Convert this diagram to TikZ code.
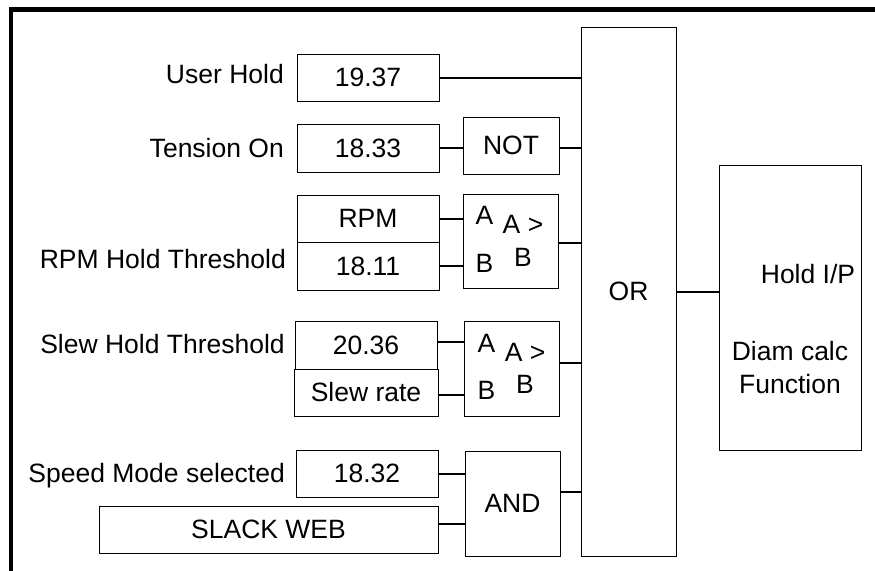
\documentclass[tikz,border=0pt]{standalone}
\usepackage{fontspec}
\setmainfont{Liberation Sans}
\begin{document}
\begin{tikzpicture}[x=1pt,y=-1pt,
  font=\fontsize{26.5}{32.5}\selectfont,
  blk/.style={draw=black, line width=1pt, inner sep=0pt, align=center},
  lbl/.style={inner sep=0pt, anchor=base east},
  wire/.style={line width=2pt},
  pin/.style={inner sep=0pt}]
\useasboundingbox (0,0) rectangle (875,570);
% outer frame (only top and left edges fall inside the page)
\draw[line width=4.5pt] (10.8,575) -- (10.8,9.3) -- (880,9.3);

% parameter / input boxes
\node[blk, minimum width=142, minimum height=47] (v1937) at (368,77.5) {19.37};
\node[blk, minimum width=142, minimum height=48] (v1833) at (368,148) {18.33};
\node[blk, minimum width=142, minimum height=47] (rpm)   at (368,218.5) {RPM};
\node[blk, minimum width=142, minimum height=48] (v1811) at (368,266) {18.11};
\node[blk, minimum width=142, minimum height=48] (v2036) at (366,345) {20.36};
\node[blk, minimum width=144, minimum height=47] (slew)  at (366,392.5) {Slew rate};
\node[blk, minimum width=142, minimum height=47] (v1832) at (367,473.5) {18.32};
\node[blk, minimum width=339, minimum height=47] (slack) at (268.5,529.5) {SLACK WEB};

% input labels
\node[lbl] (lUser)  at (284,83)  {User Hold};
\node[lbl] (lTens)  at (284,157) {Tension On};
\node[lbl] (lRpm)   at (286,268) {RPM Hold Threshold};
\node[lbl] (lSlew)  at (285,353) {Slew Hold Threshold};
\node[lbl] (lSpeed) at (285,482) {Speed Mode selected};

% logic blocks
\node[blk, minimum width=96, minimum height=57]  (not)  at (511,145.5) {NOT};
\node[blk, minimum width=95, minimum height=94]  (cmp1) at (510.5,241) {};
\node[blk, minimum width=95, minimum height=95]  (cmp2) at (511.5,368.5) {};
\node[blk, minimum width=95, minimum height=105] (and)  at (512.5,503.5) {AND};
\node[blk, minimum width=95, minimum height=529] (or)   at (628.5,291.5) {OR};
\node[blk, minimum width=142, minimum height=285] (hold) at (790,307.5) {};

% comparator pin labels and function text
\node[pin] (c1a) at ([shift={(22,22)}]cmp1.north west) {A};
\node[pin] (c1b) at ([shift={(22,69.5)}]cmp1.north west) {B};
\node[pin, align=center] (c1f) at ([shift={(12.5,0)}]cmp1.center) {A >\\B};
\node[pin] (c2a) at ([shift={(23,23)}]cmp2.north west) {A};
\node[pin] (c2b) at ([shift={(23,70)}]cmp2.north west) {B};
\node[pin, align=center] (c2f) at ([shift={(13.5,0)}]cmp2.center) {A >\\B};

% diameter calculation block text
\node[pin, anchor=base] (holdip) at (808,283) {Hold I/P};
\node[pin, anchor=base, align=center] (diam) at (790,393) {Diam calc\\Function};

% connections
\draw[wire] (v1937.east) -- (v1937.east -| or.west);
\draw[wire] (v1833.east) -- (v1833.east -| not.west);
\draw[wire] (not.east |- v1833.east) -- (v1833.east -| or.west);
\draw[wire] (rpm.east) -- (rpm.east -| cmp1.west);
\draw[wire] (v1811.east) -- (v1811.east -| cmp1.west);
\draw[wire] ([yshift=-2pt]cmp1.east) -- ([yshift=-2pt]cmp1.east -| or.west);
\draw[wire] ([yshift=3pt]v2036.east) -- ([yshift=3pt]v2036.east -| cmp2.west);
\draw[wire] ([yshift=-2.5pt]slew.east) -- ([yshift=-2.5pt]slew.east -| cmp2.west);
\draw[wire] ([yshift=5.5pt]cmp2.east) -- ([yshift=5.5pt]cmp2.east -| or.west);
\draw[wire] (v1832.east) -- (v1832.east -| and.west);
\draw[wire] ([yshift=5.5pt]slack.east) -- ([yshift=5.5pt]slack.east -| and.west);
\draw[wire] ([yshift=11.5pt]and.east) -- ([yshift=11.5pt]and.east -| or.west);
\draw[wire] (or.east) -- (or.east -| hold.west);
\end{tikzpicture}
\end{document}
